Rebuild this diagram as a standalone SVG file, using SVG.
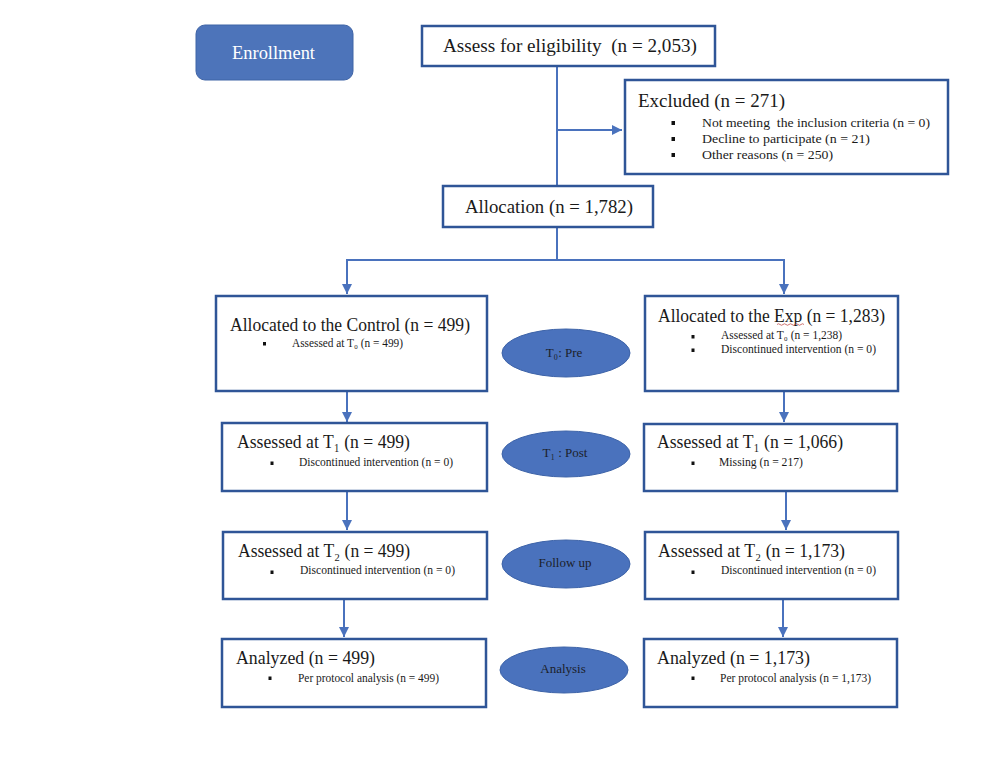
<svg xmlns="http://www.w3.org/2000/svg" width="985" height="760" viewBox="0 0 985 760">
<defs>
<style>
text{font-family:"Liberation Serif","DejaVu Serif","Times New Roman",serif;fill:#1a1a1a;white-space:pre}
.box{fill:#fff;stroke:#2f5597;stroke-width:2.5}
.t{font-size:18px}
.s{font-size:11.5px}
.e{font-size:13px;text-anchor:middle;fill:#1c1f2a}
.ell{fill:#4a72bd;stroke:#3d63a8;stroke-width:1}
.bul{fill:#111}
.con{fill:none;stroke:#4a72bd;stroke-width:2}
</style>
<marker id="arr" markerUnits="userSpaceOnUse" markerWidth="11" markerHeight="11" refX="10" refY="5" orient="auto">
<path d="M0,0 L10,5 L0,10 z" fill="#4a72bd"/>
</marker>
</defs>
<rect width="985" height="760" fill="#fff"/>

<g id="connectors">
<path class="con" d="M557,66 V186"/>
<path class="con" d="M557,130 H622" marker-end="url(#arr)"/>
<path class="con" d="M557,227 V260 M346,260 H785"/>
<path class="con" d="M347,260 V294" marker-end="url(#arr)"/>
<path class="con" d="M784,260 V294" marker-end="url(#arr)"/>
<path class="con" d="M347,391 V422" marker-end="url(#arr)"/>
<path class="con" d="M784,391 V422" marker-end="url(#arr)"/>
<path class="con" d="M347,491 V530" marker-end="url(#arr)"/>
<path class="con" d="M786,491 V530" marker-end="url(#arr)"/>
<path class="con" d="M344,599 V637" marker-end="url(#arr)"/>
<path class="con" d="M783,599 V637" marker-end="url(#arr)"/>
</g>

<g id="enrollment">
<rect x="196" y="25" width="157" height="55" rx="9" fill="#4d74ba" stroke="#3f64a6" stroke-width="1"/>
<text x="232" y="59" font-size="19" textLength="83" lengthAdjust="spacingAndGlyphs" style="fill:#fff">Enrollment</text>
</g>

<g id="assess">
<rect class="box" x="422" y="26" width="293" height="40"/>
<text class="t" x="443" y="52" textLength="254" lengthAdjust="spacingAndGlyphs">Assess for eligibility  (n = 2,053)</text>
</g>

<g id="excluded">
<rect class="box" x="625" y="80" width="323" height="94"/>
<text class="t" x="638" y="107" textLength="147" lengthAdjust="spacingAndGlyphs">Excluded (n = 271)</text>
<rect class="bul" x="671.5" y="121" width="3.5" height="4"/>
<rect class="bul" x="671.5" y="137" width="3.5" height="4"/>
<rect class="bul" x="671.5" y="153" width="3.5" height="4"/>
<text x="702" y="127" font-size="13" textLength="228" lengthAdjust="spacingAndGlyphs">Not meeting  the inclusion criteria (n = 0)</text>
<text x="702" y="143" font-size="13" textLength="168" lengthAdjust="spacingAndGlyphs">Decline to participate (n = 21)</text>
<text x="702" y="159" font-size="13" textLength="131" lengthAdjust="spacingAndGlyphs">Other reasons (n = 250)</text>
</g>

<g id="allocation">
<rect class="box" x="443" y="186" width="210" height="41"/>
<text class="t" x="465" y="213" textLength="168" lengthAdjust="spacingAndGlyphs">Allocation (n = 1,782)</text>
</g>

<g id="control-alloc">
<rect class="box" x="216" y="296" width="271" height="95"/>
<text class="t" x="230" y="331" textLength="240" lengthAdjust="spacingAndGlyphs">Allocated to the Control (n = 499)</text>
<rect class="bul" x="263" y="342" width="3" height="3.5"/>
<text class="s" x="292" y="347" textLength="111" lengthAdjust="spacingAndGlyphs">Assessed at T₀ (n = 499)</text>
</g>

<g id="exp-alloc">
<rect class="box" x="645" y="296" width="253" height="95"/>
<text class="t" x="658" y="322" textLength="227" lengthAdjust="spacingAndGlyphs">Allocated to the Exp (n = 1,283)</text>
<path d="M777,324.5 q1.5,-1.5 3,0 t3,0 t3,0 t3,0 t3,0 t3,0 t3,0 t3,0 t3,0" fill="none" stroke="#c0504d" stroke-width="0.8"/>
<rect class="bul" x="691.5" y="335" width="3" height="3.5"/>
<rect class="bul" x="691.5" y="348.5" width="3" height="3.5"/>
<text class="s" x="721" y="339" textLength="121" lengthAdjust="spacingAndGlyphs">Assessed at T₀ (n = 1,238)</text>
<text class="s" x="721" y="353" textLength="155" lengthAdjust="spacingAndGlyphs">Discontinued intervention (n = 0)</text>
</g>

<g id="pre">
<ellipse class="ell" cx="566" cy="353" rx="64" ry="24"/>
<text class="e" x="564" y="357">T₀: Pre</text>
</g>

<g id="control-t1">
<rect class="box" x="222" y="423" width="265" height="68"/>
<text class="t" x="237" y="448" textLength="173" lengthAdjust="spacingAndGlyphs">Assessed at T₁ (n = 499)</text>
<rect class="bul" x="270.5" y="461.5" width="3" height="3.5"/>
<text class="s" x="299" y="466" textLength="154" lengthAdjust="spacingAndGlyphs">Discontinued intervention (n = 0)</text>
</g>

<g id="post">
<ellipse class="ell" cx="566" cy="454" rx="64" ry="23"/>
<text class="e" x="565" y="457">T₁ : Post</text>
</g>

<g id="exp-t1">
<rect class="box" x="644" y="424" width="253" height="67"/>
<text class="t" x="657" y="448" textLength="186" lengthAdjust="spacingAndGlyphs">Assessed at T₁ (n = 1,066)</text>
<rect class="bul" x="691.5" y="461.5" width="3" height="3.5"/>
<text class="s" x="719" y="466" textLength="84" lengthAdjust="spacingAndGlyphs">Missing (n = 217)</text>
</g>

<g id="control-t2">
<rect class="box" x="223" y="532" width="264" height="67"/>
<text class="t" x="238" y="557" textLength="172" lengthAdjust="spacingAndGlyphs">Assessed at T₂ (n = 499)</text>
<rect class="bul" x="270.5" y="570.5" width="3" height="3.5"/>
<text class="s" x="300" y="574" textLength="155" lengthAdjust="spacingAndGlyphs">Discontinued intervention (n = 0)</text>
</g>

<g id="followup">
<ellipse class="ell" cx="566" cy="564" rx="64" ry="24"/>
<text class="e" x="565" y="567">Follow up</text>
</g>

<g id="exp-t2">
<rect class="box" x="645" y="532" width="253" height="67"/>
<text class="t" x="658" y="557" textLength="187" lengthAdjust="spacingAndGlyphs">Assessed at T₂ (n = 1,173)</text>
<rect class="bul" x="691.5" y="570.5" width="3" height="3.5"/>
<text class="s" x="721" y="574" textLength="155" lengthAdjust="spacingAndGlyphs">Discontinued intervention (n = 0)</text>
</g>

<g id="control-analyzed">
<rect class="box" x="222" y="639" width="264" height="68"/>
<text class="t" x="236" y="664" textLength="139" lengthAdjust="spacingAndGlyphs">Analyzed (n = 499)</text>
<rect class="bul" x="268.5" y="676.5" width="3" height="3.5"/>
<text class="s" x="298" y="682" textLength="141" lengthAdjust="spacingAndGlyphs">Per protocol analysis (n = 499)</text>
</g>

<g id="analysis">
<ellipse class="ell" cx="564" cy="670" rx="64" ry="23"/>
<text class="e" x="563" y="673">Analysis</text>
</g>

<g id="exp-analyzed">
<rect class="box" x="644" y="639" width="253" height="68"/>
<text class="t" x="657" y="664" textLength="153" lengthAdjust="spacingAndGlyphs">Analyzed (n = 1,173)</text>
<rect class="bul" x="691.5" y="676.5" width="3" height="3.5"/>
<text class="s" x="720" y="682" textLength="151" lengthAdjust="spacingAndGlyphs">Per protocol analysis (n = 1,173)</text>
</g>
</svg>
